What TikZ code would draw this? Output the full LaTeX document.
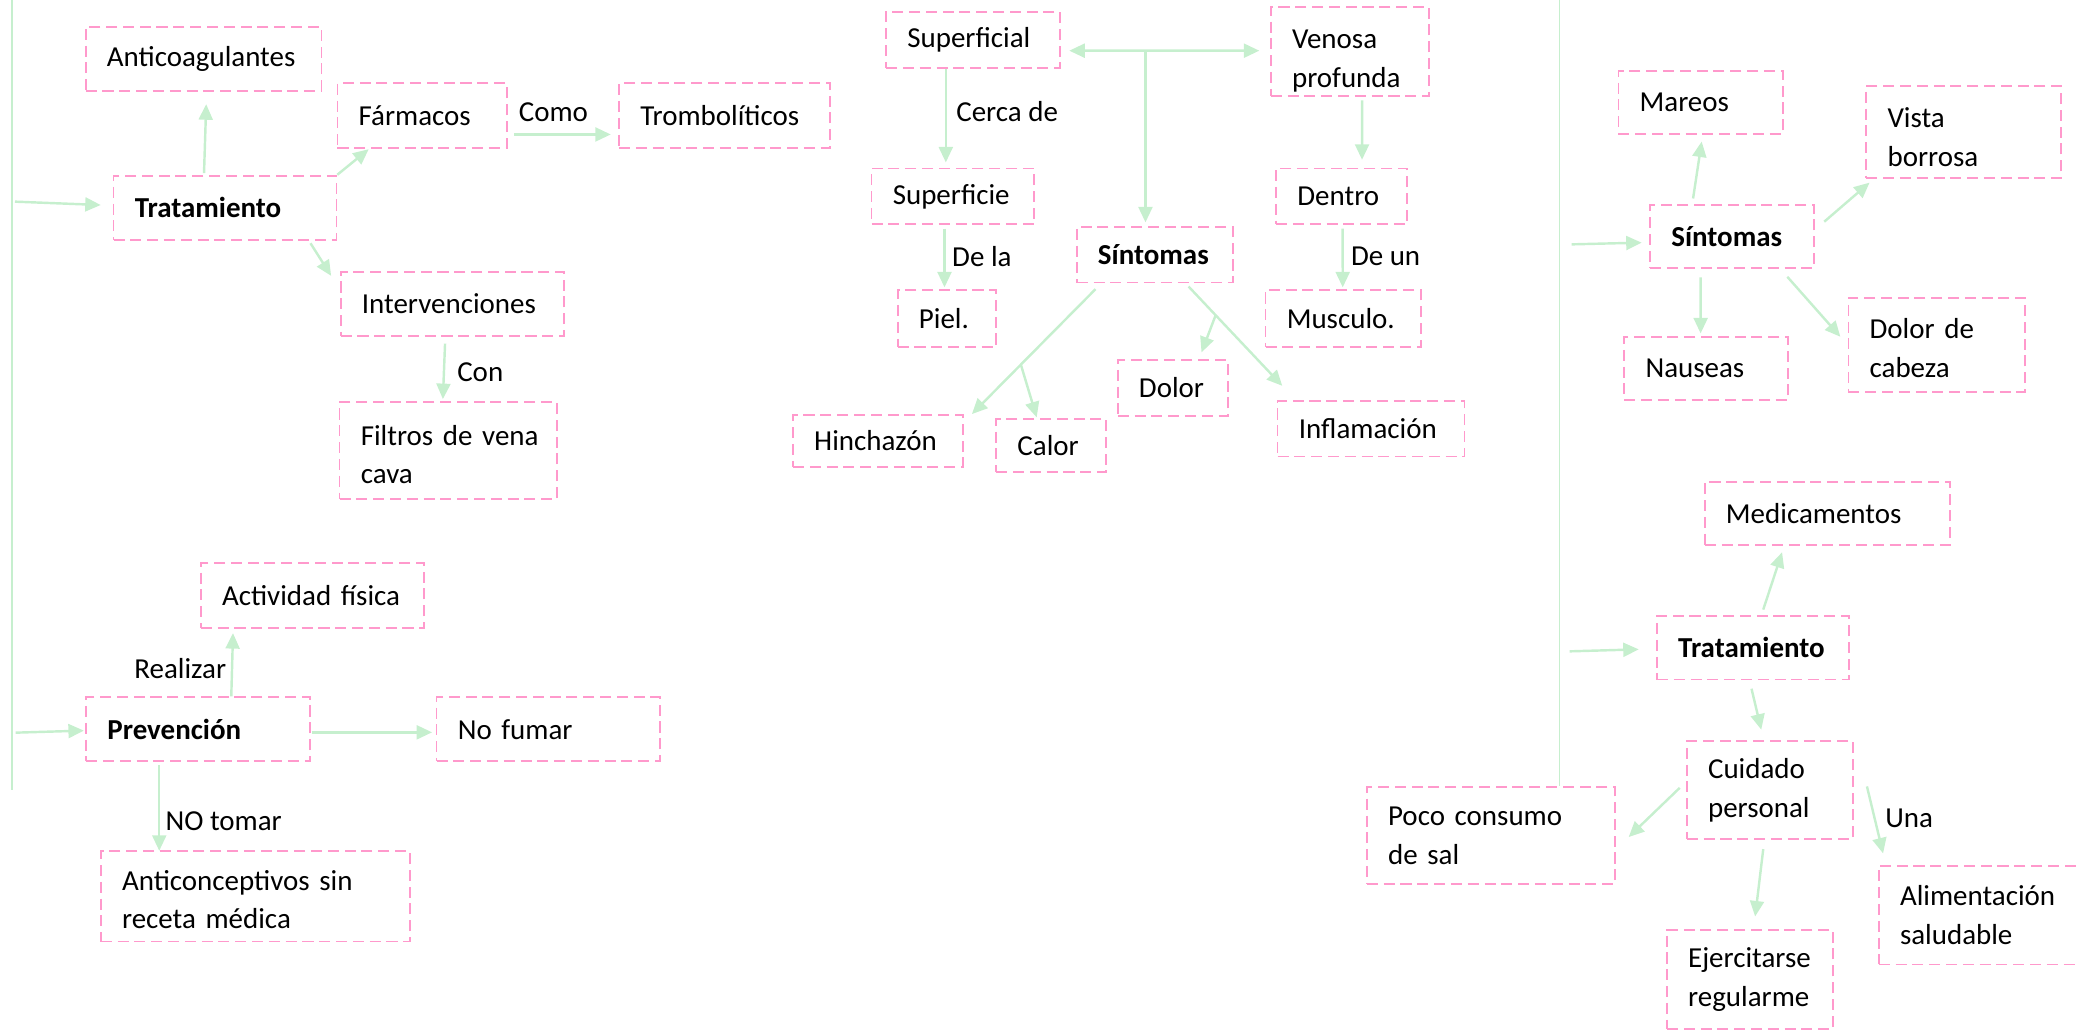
\documentclass[tikz,border=0pt]{standalone}
\usepackage{fontspec}
\setmainfont{Carlito}
\usetikzlibrary{arrows.meta,calc}
\definecolor{pinkb}{HTML}{FF99CC}
\definecolor{greenl}{HTML}{C6EFCE}
\newlength\bxpad \setlength\bxpad{9.6pt}
\newcommand\nl{\\\hspace*{\bxpad}}
\newcommand\bx[7][]{%
  \pgfmathsetmacro\bxw{(#5-#3)*0.6}%
  \pgfmathsetmacro\bxh{(#6-#4)*0.6}%
  \node[box,minimum width=\bxw pt,minimum height=\bxh pt,text width=\bxw pt,#1] (#2) at ({(#3+#5)/2},{(#4+#6)/2}) {\hspace*{\bxpad}#7};%
}
\begin{document}
\begin{tikzpicture}[x=0.6pt,y=-0.6pt,
  box/.style={draw=pinkb,line width=0.8pt,dash pattern=on 5pt off 2.6pt,inner sep=0pt,font=\fontsize{13.1pt}{17.6pt}\selectfont},
  lbl/.style={inner sep=0pt,anchor=west,font=\fontsize{13.1pt}{17.6pt}\selectfont},
  arr/.style={draw=greenl,line width=1.1pt,-{Triangle[length=7pt,width=6.3pt]}},
  darr/.style={draw=greenl,line width=1.1pt,{Triangle[length=7pt,width=6.3pt]}-{Triangle[length=7pt,width=6.3pt]}},
  divl/.style={draw=greenl,line width=0.6pt}]
\useasboundingbox (0,0) rectangle (1568,776);

% divider lines
\coordinate (d1a) at (9,0); \coordinate (d1b) at (9,595.5);
\draw[divl] (d1a) -- (d1b);

% ---------- left: Tratamiento ----------
\bx{antico}{64.6}{20.1}{242.3}{68.4}{Anticoagulantes}
\bx{farm}{254.4}{62.8}{382}{111.3}{Fármacos}
\bx{trombo}{466.7}{62.8}{625.8}{111.3}{Trombolíticos}
\bx{trat}{85.6}{132.4}{253.6}{180.7}{\textbf{Tratamiento}}
\bx{interv}{256.8}{204.8}{425.2}{253.3}{Intervenciones}
\bx{filtros}{256}{303.3}{419.9}{376.2}{\rule{0pt}{12.6pt}Filtros de vena\nl cava}
\node[lbl] (como) at (390.8,84.2) {Como};
\node[lbl] (con) at (344.4,280.7) {Con};
\coordinate (lin1) at (11.3,152);
\draw[arr] (lin1) -- ($(trat.west)+(-9,-2)$);
\draw[arr] ($(trat.north)+(-15.8,-1.2)$) -- ($(antico.south)+(2,9.5)$);
\draw[arr] (trat.north east) -- ($(farm.south west)+(24.2,0.5)$);
\draw[arr] ($(farm.east)+(4.8,14.3)$) -- ($(trombo.west)+(-5.6,14.3)$);
\draw[arr] ($(trat.south east)+(-20.2,2)$) -- ($(interv.north west)+(-6.5,3.8)$);
\draw[arr] ($(interv.south)+(-5.5,5)$) -- ($(filtros.north)+(-4.1,-1.8)$);

% ---------- left: Prevencion ----------
\bx{activ}{151.4}{424.6}{319.7}{473.6}{Actividad física}
\bx{prev}{65}{525.6}{233.9}{573.9}{\textbf{Prevención}}
\bx{nofumar}{329.1}{525.6}{497.4}{573.9}{No fumar}
\bx{anticon}{76}{641.5}{308.9}{709.8}{\rule{0pt}{12pt}Anticonceptivos sin\nl receta médica}
\node[lbl] (realizar) at (101,503.8) {Realizar};
\node[lbl] (notomar) at (124.5,619.4) {NO tomar};
\coordinate (lin2) at (11.8,552.3);
\draw[arr] (lin2) -- ($(prev.west)+(-1.1,1)$);
\draw[arr] ($(prev.north)+(24.9,0)$) -- ($(activ.south)+(-59.9,3)$);
\draw[arr] ($(prev.east)+(1,2.3)$) -- ($(nofumar.west)+(-2.7,2.3)$);
\draw[arr] ($(prev.south)+(-29.4,2.3)$) -- ($(anticon.north)+(-72.4,0.5)$);

% ---------- middle ----------
\bx{superf}{668}{8.8}{799}{51}{Superficial}
\bx{venosa}{958}{5}{1077}{72.4}{\rule{0pt}{16.8pt}Venosa\nl profunda}
\bx{superfie}{657}{127}{779.5}{169}{Superficie}
\bx{piel}{676.7}{218.6}{751}{261.4}{Piel.}
\bx{sint}{811.7}{171}{929.3}{213}{\textbf{Síntomas}}
\bx{dentro}{962}{127}{1060.7}{169}{Dentro}
\bx{musculo}{954}{218.6}{1071}{261.4}{Musculo.}
\bx{hinch}{597.8}{312.9}{725.8}{351.8}{Hinchazón}
\bx{calor}{751}{316}{834}{356}{Calor}
\bx{dolor}{842.6}{271.4}{925.5}{313.6}{Dolor}
\bx{infl}{963.1}{302.3}{1104}{344.2}{Inflamación}
\node[lbl] (cerca) at (720.6,84.2) {Cerca de};
\node[lbl] (dela) at (717.5,193.5) {De la};
\node[lbl] (deun) at (1018.1,193.5) {De un};
\draw[darr] ($(superf.east)+(6.4,8.3)$) -- ($(venosa.west)+(-8,-0.5)$);
\coordinate (jn) at (863.5,38.2);
\draw[arr] (jn) -- ($(sint.north)+(-7,-2.7)$);
\draw[arr] ($(superf.south)+(-20.5,0.5)$) -- ($(superfie.north)+(-5.25,-3.9)$);
\draw[arr] ($(superfie.south)+(-6.25,2.6)$) -- ($(piel.north)+(-1.85,-1.3)$);
\draw[arr] ($(venosa.south)+(9.3,2.5)$) -- ($(dentro.north)+(15.4,-5.9)$);
\draw[arr] ($(dentro.south)+(0.8,2.6)$) -- ($(musculo.north)+(-0.3,-1.3)$);
\coordinate (s1a) at ($(sint.south west)+(14.8,4.3)$);
\coordinate (s1b) at ($(hinch.north east)+(6.2,-0.1)$);
\draw[arr] (s1a) -- (s1b);
\draw[arr] ($(s1a)!0.604!(s1b)$) -- ($(calor.north)+(-11,-0.7)$);
\coordinate (s2a) at ($(sint.south east)+(-34,2.3)$);
\coordinate (s2b) at ($(infl.north west)+(4.2,-10.8)$);
\draw[arr] (s2a) -- (s2b);
\draw[arr] ($(s2a)!0.289!(s2b)$) -- ($(dolor.north)+(21.7,-5.1)$);

% ---------- right ----------
\bx{mareos}{1220}{53.5}{1343.9}{101}{Mareos}
\bx{vista}{1406.9}{64.8}{1553.6}{134.4}{\rule{0pt}{13.4pt}Vista\nl borrosa}
\bx{sint2}{1243.9}{154.5}{1367.7}{201.8}{\textbf{Síntomas}}
\bx{naus}{1224.5}{253.8}{1347.7}{301.5}{Nauseas}
\bx{dolcab}{1393.4}{224.4}{1526.3}{295.3}{\rule{0pt}{12pt}Dolor de\nl cabeza}
\bx{medic}{1285.1}{363.5}{1470.1}{410.7}{Medicamentos}
\bx{trat2}{1249.1}{464.5}{1393.6}{512.3}{\textbf{Tratamiento}}
\bx{cuid}{1271.6}{558.7}{1396.8}{632.6}{Cuidado\nl personal}
\bx{poco}{1030.4}{593.4}{1217.5}{666.5}{Poco consumo\nl de sal}
\bx{alim}{1416.3}{652.6}{1580}{727}{Alimentación\nl saludable}
\bx{ejerc}{1256.6}{700.9}{1381.8}{775.4}{Ejercitarse\nl regularme}
\node[lbl] (una) at (1420.9,617) {Una};
\coordinate (d2a) at (1175.5,0);
\draw[divl] (d2a) -- (d2a |- poco.north);
\coordinate (lin3) at (1184.7,184.2);
\draw[arr] (lin3) -- ($(sint2.west)+(-5.7,4.75)$);
\draw[arr] ($(sint2.north)+(-29.5,-4.2)$) -- ($(mareos.south)+(0.85,5)$);
\draw[arr] ($(sint2.north east)+(6.8,13.3)$) -- ($(vista.south west)+(3.1,2.6)$);
\draw[arr] ($(sint2.south)+(-23.8,6.7)$) -- ($(naus.north)+(-4.1,-1.8)$);
\draw[arr] ($(sint2.south east)+(-21,6.2)$) -- ($(dolcab.west)+(-5.4,-6)$);
\coordinate (lin4) at (1183.3,491);
\draw[arr] (lin4) -- ($(trat2.west)+(-13.1,1.1)$);
\draw[arr] ($(trat2.north)+(7.85,-4.3)$) -- ($(medic.south)+(-34.2,4.9)$);
\draw[arr] ($(trat2.south)+(-1,6.2)$) -- ($(cuid.north)+(-6.5,-8)$);
\draw[arr] ($(cuid.west)+(-4.7,-1.75)$) -- ($(poco.east)+(9.6,1)$);
\draw[arr] ($(cuid.east)+(9.9,-2.85)$) -- ($(alim.north west)+(3.9,-8.6)$);
\draw[arr] ($(cuid.south)+(-5,6.8)$) -- ($(ejerc.north)+(3.9,-9.4)$);
\end{tikzpicture}
\end{document}
